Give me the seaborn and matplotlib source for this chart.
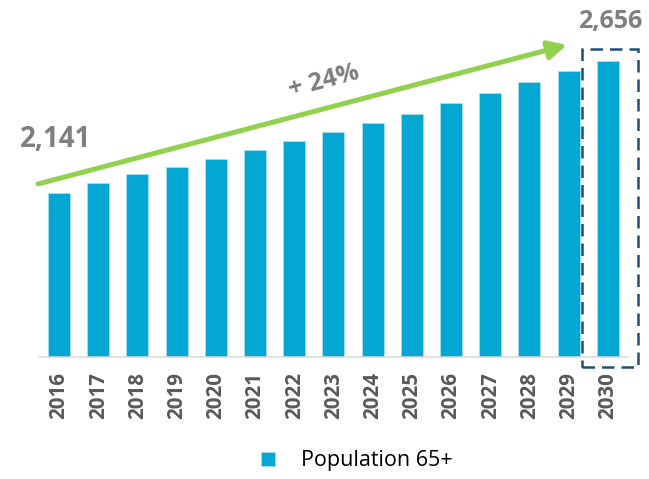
import matplotlib
matplotlib.use("Agg")
import matplotlib.pyplot as plt
from matplotlib.patches import FancyArrowPatch, Rectangle
import seaborn as sns
import pandas as pd

# Population aged 65+ (thousands), 2016-2030
years = ["2016", "2017", "2018", "2019", "2020", "2021", "2022", "2023",
         "2024", "2025", "2026", "2027", "2028", "2029", "2030"]
population_65 = [2141, 2178, 2213, 2243, 2274, 2309, 2342, 2378,
                 2414, 2449, 2492, 2532, 2575, 2616, 2656]
series_label = "Population 65+"

BAR_COLOR = "#04A6D2"
GREEN = "#92D050"
GREY_TEXT = "#7F7F7F"
TICK_TEXT = "#595959"
DASH_BLUE = "#1F4E79"

sns.set_theme(style="white")
plt.rcParams["font.family"] = ["Open Sans", "DejaVu Sans"]
plt.rcParams["font.style"] = "normal"

df = pd.DataFrame({"year": years, "value": population_65})

fig = plt.figure(figsize=(6.49, 4.79), dpi=100)
ax = fig.add_axes([0.0607, 0.2557, 0.906, 0.6938])

sns.barplot(data=df, x="year", y="value", color=BAR_COLOR, width=0.56,
            edgecolor="#A8DDF0", linewidth=0.6, saturation=1,
            label=series_label, ax=ax)

ax.set_ylim(1500, 2800)
ax.set_xlim(-0.5, len(years) - 0.5)
ax.set_xlabel("")
ax.set_ylabel("")
ax.set_yticks([])
for side in ("left", "right", "top"):
    ax.spines[side].set_visible(False)
ax.spines["bottom"].set_color("#D9D9D9")
ax.spines["bottom"].set_linewidth(1.1)
ax.tick_params(axis="x", length=0, pad=11.5)
for lbl in ax.get_xticklabels():
    lbl.set_rotation(90)
    lbl.set_fontsize(14.8)
    lbl.set_fontweight("bold")
    lbl.set_fontstyle("normal")
    lbl.set_color(TICK_TEXT)
    lbl.set_va("top")
    lbl.set_ha("center")

# Value labels on first and last bars
first, last = population_65[0], population_65[-1]
ax.annotate(f"{first:,}", xy=(0, first), xytext=(-2.5, 38),
            textcoords="offset points", ha="center", va="center",
            fontsize=20, fontweight="bold", fontstyle="normal",
            color=GREY_TEXT, annotation_clip=False)
ax.annotate(f"{last:,}", xy=(len(years) - 1, last), xytext=(2, 28.5),
            textcoords="offset points", ha="center", va="center",
            fontsize=18, fontweight="bold", fontstyle="normal",
            color=GREY_TEXT, annotation_clip=False)

# Growth arrow
arrow = FancyArrowPatch((-0.536, 2175), (12.96, 2719),
                        arrowstyle="-|>,head_length=11,head_width=5.5",
                        mutation_scale=1, color=GREEN, linewidth=3.6,
                        shrinkA=0, shrinkB=0, clip_on=False)
ax.add_patch(arrow)
growth = round((last / first - 1) * 100)
ax.text(6.75, 2575, f"+ {growth}%", rotation=15, rotation_mode="anchor",
        ha="center", va="center", fontsize=18, fontweight="bold",
        fontstyle="normal", color=GREY_TEXT)

# Dashed frame around the final year
frame = Rectangle((len(years) - 1 - 0.67, 1460), 1.43, 1242, fill=False,
                  edgecolor=DASH_BLUE, linewidth=1.8,
                  linestyle=(0, (5, 2.8)), clip_on=False)
ax.add_patch(frame)

handles, labels = ax.get_legend_handles_labels()
if ax.get_legend() is not None:
    ax.get_legend().remove()
fig.legend(handles, labels, loc="center", bbox_to_anchor=(0.550, 0.0376),
           frameon=False, fontsize=15.5, handlelength=0.63, handleheight=0.63,
           handletextpad=1.2, borderpad=0, labelcolor="#000000")

fig.savefig("out.png", dpi=100)
